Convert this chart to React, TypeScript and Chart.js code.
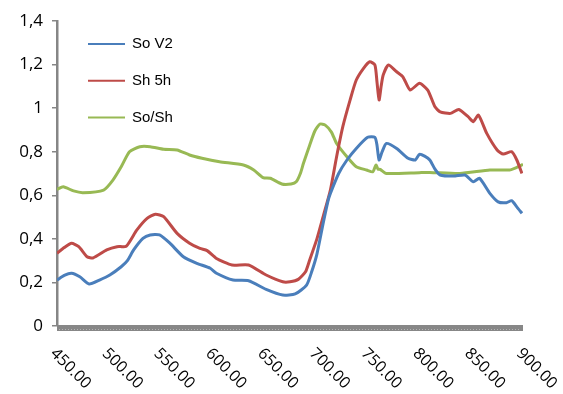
import React, { useEffect, useRef } from "react";
import { Chart, registerables } from "chart.js";

Chart.register(...registerables);

// So V2 (blue)
const soV2Nm = [450, 457, 464, 472, 481, 491, 501, 512, 518, 524, 533, 540, 549, 559, 572, 585, 598, 604, 620, 635, 652, 668, 680, 691, 696, 701, 707, 712, 714, 722, 730, 739, 750, 757, 759, 761, 764, 768, 778, 789, 796, 800, 805, 810, 815, 820, 833, 844, 852, 858, 868, 876, 884, 889, 894, 899];
const soV2Val = [0.211, 0.232, 0.242, 0.226, 0.193, 0.211, 0.234, 0.272, 0.3, 0.349, 0.402, 0.418, 0.418, 0.38, 0.318, 0.288, 0.265, 0.242, 0.211, 0.208, 0.168, 0.142, 0.147, 0.188, 0.25, 0.33, 0.471, 0.58, 0.609, 0.7, 0.762, 0.815, 0.866, 0.866, 0.83, 0.762, 0.8, 0.838, 0.815, 0.77, 0.762, 0.788, 0.78, 0.762, 0.72, 0.693, 0.688, 0.693, 0.662, 0.678, 0.609, 0.57, 0.566, 0.575, 0.547, 0.517];

// Sh 5h (red)
const sh5hNm = [450, 457, 464, 471, 479, 485, 498, 508, 517, 527, 537, 545, 553, 566, 578, 588, 595, 604, 619, 635, 652, 668, 675, 683, 690, 694, 701, 707, 714, 720, 726, 733, 739, 746, 752, 757, 759, 761, 763, 765, 770, 778, 784, 791, 800, 808, 815, 820, 830, 838, 847, 852, 857, 865, 875, 881, 889, 894, 899];
const sh5hVal = [0.334, 0.36, 0.38, 0.364, 0.318, 0.313, 0.349, 0.364, 0.367, 0.44, 0.494, 0.513, 0.502, 0.425, 0.38, 0.356, 0.346, 0.31, 0.28, 0.28, 0.234, 0.203, 0.203, 0.214, 0.249, 0.303, 0.4, 0.502, 0.624, 0.777, 0.915, 1.037, 1.129, 1.183, 1.213, 1.198, 1.12, 1.037, 1.1, 1.152, 1.198, 1.167, 1.144, 1.083, 1.114, 1.083, 1.006, 0.983, 0.976, 0.994, 0.961, 0.938, 0.968, 0.884, 0.808, 0.789, 0.8, 0.762, 0.7];

// So/Sh (green)
const soShNm = [450, 456, 466, 475, 495, 504, 512, 520, 530, 540, 553, 566, 578, 590, 607, 630, 640, 649, 656, 667, 676, 681, 685, 688, 694, 699, 704, 709, 715, 720, 730, 739, 749, 755, 758, 760, 762, 768, 800, 810, 839, 868, 887, 894, 900];
const soShVal = [0.627, 0.639, 0.62, 0.612, 0.624, 0.67, 0.731, 0.8, 0.823, 0.823, 0.811, 0.808, 0.785, 0.77, 0.754, 0.739, 0.716, 0.681, 0.678, 0.652, 0.652, 0.662, 0.7, 0.747, 0.83, 0.895, 0.927, 0.922, 0.89, 0.838, 0.777, 0.731, 0.716, 0.708, 0.739, 0.72, 0.719, 0.7, 0.704, 0.705, 0.7, 0.716, 0.716, 0.728, 0.742];

const seriesNames = ["So V2", "Sh 5h", "So/Sh"];
const seriesColors = ["#4A7EBB", "#BE4B48", "#98B954"];
const xTickValues = [450, 500, 550, 600, 650, 700, 750, 800, 850, 900];

const toPoints = (xs: number[], ys: number[]) => xs.map((x, i) => ({ x, y: ys[i] }));

const customPlugin = {
  id: "customDecor",
  afterDraw(chart: any) {
    const { ctx, chartArea, scales } = chart;
    const xs = scales.x;
    ctx.save();
    // x axis band
    ctx.fillStyle = "#878787";
    ctx.fillRect(chartArea.left, chartArea.bottom - 1, chartArea.right - chartArea.left, 6);
    ctx.strokeStyle = "#b4b4b4";
    ctx.lineWidth = 1;
    ctx.setLineDash([1, 2]);
    ctx.beginPath();
    ctx.moveTo(chartArea.left + 2, chartArea.bottom + 3.5);
    ctx.lineTo(chartArea.right - 2, chartArea.bottom + 3.5);
    ctx.stroke();
    ctx.setLineDash([]);

    // rotated x labels
    ctx.fillStyle = "#000";
    ctx.font = "16px 'Open Sans'";
    ctx.textAlign = "left";
    ctx.textBaseline = "middle";
    xTickValues.forEach((v) => {
      const px = xs.getPixelForValue(v);
      ctx.save();
      ctx.translate(px - 4, chartArea.bottom + 25);
      ctx.rotate(Math.PI / 4);
      ctx.fillText(v.toFixed(2), 0, 0);
      ctx.restore();
    });

    // legend
    ctx.font = "15px 'Liberation Sans'";
    ctx.textBaseline = "middle";
    seriesNames.forEach((name, i) => {
      const y = 44 + i * 36.7;
      ctx.strokeStyle = seriesColors[i];
      ctx.lineWidth = 2;
      ctx.beginPath();
      ctx.moveTo(88, y);
      ctx.lineTo(125, y);
      ctx.stroke();
      ctx.fillStyle = "#000";
      ctx.fillText(name, 132, y);
    });
    ctx.restore();
  },
};

export default function App() {
  const ref = useRef<HTMLCanvasElement | null>(null);
  useEffect(() => {
    if (!ref.current) return;
    const mk = (i: number, xs: number[], ys: number[]) => ({
      label: seriesNames[i],
      data: toPoints(xs, ys),
      borderColor: seriesColors[i],
      backgroundColor: seriesColors[i],
      borderWidth: 3,
      pointRadius: 0,
      tension: 0.2,
      fill: false,
    });
    const chart = new Chart(ref.current, {
      type: "line",
      data: {
        datasets: [mk(0, soV2Nm, soV2Val), mk(1, sh5hNm, sh5hVal), mk(2, soShNm, soShVal)],
      },
      options: {
        responsive: false,
        animation: false,
        layout: { padding: { left: 0, right: 40, top: 21, bottom: 0 } },
        plugins: { legend: { display: false }, tooltip: { enabled: false } },
        scales: {
          x: {
            type: "linear",
            min: 450,
            max: 900,
            grid: { display: false },
            border: { display: false },
            ticks: { display: false },
            afterFit: (s: any) => {
              s.height = 68;
            },
          },
          y: {
            min: 0,
            max: 1.4,
            ticks: {
              stepSize: 0.2,
              padding: 9,
              color: "#000",
              font: { family: "'Open Sans'", size: 17 },
              callback: (v: any) => String(Math.round(Number(v) * 10) / 10).replace(".", ","),
            },
            grid: {
              display: true,
              drawOnChartArea: false,
              drawTicks: true,
              tickLength: 5,
              color: "#868686",
              lineWidth: 1.5,
            },
            border: { display: true, color: "#868686", width: 2.5 },
            afterFit: (s: any) => {
              s.width = 57;
            },
          },
        },
      },
      plugins: [customPlugin],
    });
    return () => chart.destroy();
  }, []);
  return (
    <div style={{ position: "absolute", left: 0, top: 0, width: 563, height: 394, background: "#fff" }}>
      <canvas ref={ref} width={563} height={394} />
    </div>
  );
}
